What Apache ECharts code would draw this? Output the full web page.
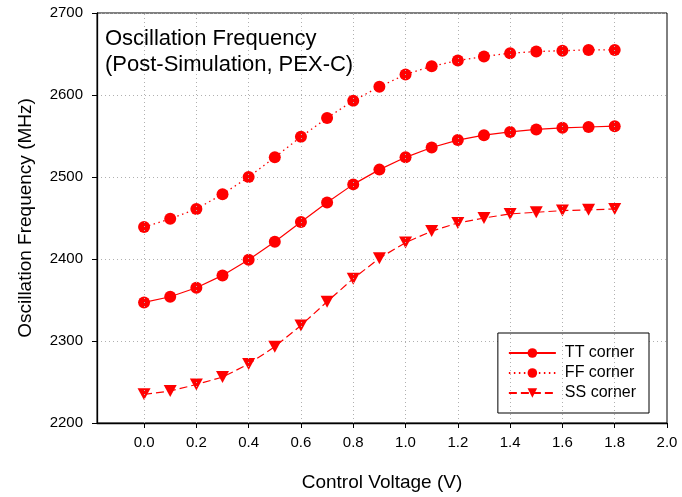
<!DOCTYPE html>
<html>
<head>
<meta charset="utf-8">
<script src="https://cdn.jsdelivr.net/npm/echarts@6/dist/echarts.min.js"></script>
<style>
  html, body { margin: 0; padding: 0; background: #fff; }
  #main { width: 682px; height: 497px; }
</style>
</head>
<body>
<div id="main"></div>
<script>
// 控制电压 (V)
var voltage = [0.0, 0.1, 0.2, 0.3, 0.4, 0.5, 0.6, 0.7, 0.8, 0.9, 1.0, 1.1, 1.2, 1.3, 1.4, 1.5, 1.6, 1.7, 1.8];
// 各工艺角振荡频率 (MHz)
var ttCorner = [2347, 2354, 2365, 2380, 2399, 2421, 2445, 2469, 2491, 2509, 2524, 2536, 2545, 2551, 2555, 2558, 2560, 2561, 2562];
var ffCorner = [2439, 2449, 2461, 2479, 2500, 2524, 2549, 2572, 2593, 2610, 2625, 2635, 2642, 2647, 2651, 2653, 2654, 2655, 2655];
var ssCorner = [2235, 2239, 2247, 2256, 2272, 2293, 2319, 2348, 2376, 2401, 2420, 2434, 2444, 2450, 2455, 2457, 2459, 2460, 2461];
// x轴刻度
var xTicks = [0.0, 0.2, 0.4, 0.6, 0.8, 1.0, 1.2, 1.4, 1.6, 1.8, 2.0];

function pairs(ys) {
	return voltage.map(function (x, i) { return [x, ys[i]]; });
}

var chart = echarts.init(document.getElementById('main'));
var font = 'Liberation Sans, Arial, sans-serif';
var red = '#ff0000';
var gridColor = '#b0b0b0';

var option = {
	animation: false,
	textStyle: { fontFamily: font },
	title: {
		text: 'Oscillation Frequency\n(Post-Simulation, PEX-C)',
		left: 100,
		top: 21,
		textStyle: { fontFamily: font, fontSize: 22, fontWeight: 'normal', color: '#000', lineHeight: 26 }
	},
	grid: {
		left: 97,
		right: 15,
		top: 13,
		bottom: 74,
		show: true,
		borderColor: '#000',
		borderWidth: 1
	},
	legend: {
		orient: 'vertical',
		right: 33,
		bottom: 84,
		itemWidth: 47,
		itemHeight: 12,
		itemGap: 4,
		padding: [12, 13, 12, 10],
		borderColor: '#000',
		borderWidth: 1,
		backgroundColor: '#fff',
		borderRadius: 0,
		textStyle: { fontFamily: font, fontSize: 16, color: '#000', padding: [0, 0, 0, 4] },
		data: ['TT corner', 'FF corner', 'SS corner']
	},
	xAxis: {
		type: 'value',
		min: -0.18,
		max: 2.0,
		name: 'Control Voltage (V)',
		nameLocation: 'middle',
		nameGap: 50,
		nameTextStyle: { fontFamily: font, fontSize: 19, color: '#000' },
		axisLine: { onZero: false, lineStyle: { color: '#000', width: 1.3 } },
		axisTick: { show: true, inside: false, length: 5, customValues: xTicks, lineStyle: { color: '#000' } },
		axisLabel: {
			customValues: xTicks,
			margin: 12,
			fontSize: 15,
			color: '#000',
			fontFamily: font,
			formatter: function (v) { return v.toFixed(1); }
		},
		splitLine: { show: false }
	},
	yAxis: {
		type: 'value',
		min: 2200,
		max: 2700,
		interval: 100,
		name: 'Oscillation Frequency (MHz)',
		nameLocation: 'middle',
		nameGap: 62,
		nameTextStyle: { fontFamily: font, fontSize: 19, color: '#000' },
		axisLine: { show: true, onZero: false, lineStyle: { color: '#000', width: 1.3 } },
		axisTick: { show: true, inside: false, length: 5, lineStyle: { color: '#000' } },
		axisLabel: {
			margin: 14,
			fontSize: 15,
			color: '#000',
			fontFamily: font,
			formatter: function (v) { return String(v); }
		},
		splitLine: { show: true, lineStyle: { color: gridColor, type: [1, 3], width: 1 } }
	},
	series: [
		{
			name: 'TT corner',
			type: 'line',
			data: pairs(ttCorner),
			symbol: 'circle',
			symbolSize: 12,
			itemStyle: { color: red },
			lineStyle: { color: red, width: 1.2, type: 'solid' },
			// 竖直网格线
			markLine: {
				silent: true,
				symbol: 'none',
				label: { show: false },
				lineStyle: { color: gridColor, type: [1, 3], width: 1 },
				data: xTicks.slice(0, 10).map(function (v) { return { xAxis: v }; })
			},
			z: 3
		},
		{
			name: 'FF corner',
			type: 'line',
			data: pairs(ffCorner),
			symbol: 'circle',
			symbolSize: 12,
			itemStyle: { color: red },
			lineStyle: { color: red, width: 1.3, type: [1.5, 3.5] },
			z: 3
		},
		{
			name: 'SS corner',
			type: 'line',
			data: pairs(ssCorner),
			symbol: 'triangle',
			symbolRotate: 180,
			symbolSize: [13, 12],
			itemStyle: { color: red },
			lineStyle: { color: red, width: 1.2, type: [8, 4] },
			z: 3
		}
	]
};
chart.setOption(option);
</script>
</body>
</html>
